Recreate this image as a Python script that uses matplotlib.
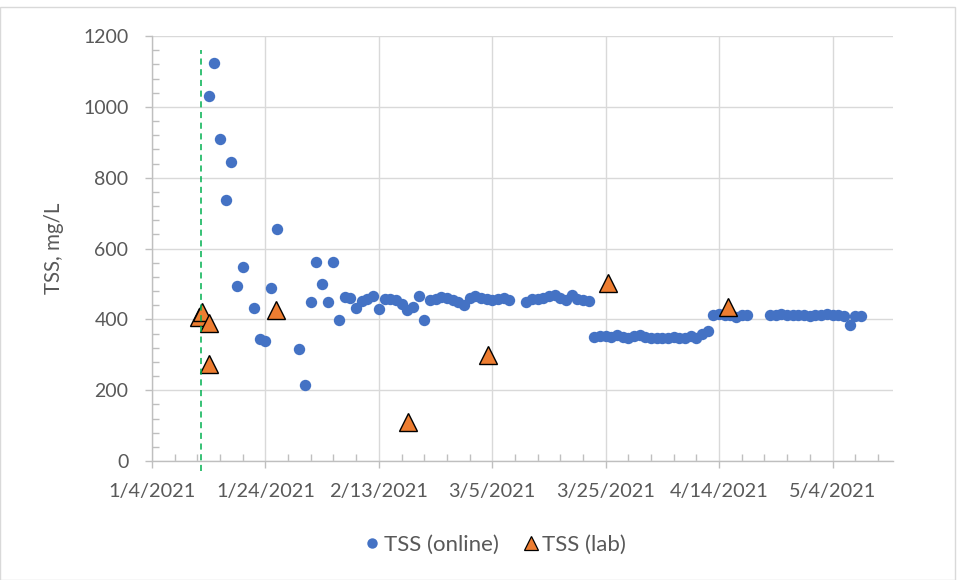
import matplotlib
matplotlib.use("Agg")
import matplotlib.pyplot as plt
import matplotlib.dates as mdates
from matplotlib.lines import Line2D
from matplotlib.patches import Rectangle
import numpy as np
import pandas as pd

# ---------------- data ----------------
online_dates = [
    "2021-01-14", "2021-01-15", "2021-01-16", "2021-01-17", "2021-01-18", "2021-01-19",
    "2021-01-20", "2021-01-22", "2021-01-23", "2021-01-24", "2021-01-25", "2021-01-26",
    "2021-01-30", "2021-01-31", "2021-02-01", "2021-02-02", "2021-02-03", "2021-02-04",
    "2021-02-05", "2021-02-06", "2021-02-07", "2021-02-08", "2021-02-09", "2021-02-10",
    "2021-02-11", "2021-02-12", "2021-02-13", "2021-02-14", "2021-02-15", "2021-02-16",
    "2021-02-17", "2021-02-18", "2021-02-19", "2021-02-20", "2021-02-21", "2021-02-22",
    "2021-02-23", "2021-02-24", "2021-02-25", "2021-02-26", "2021-02-27", "2021-02-28",
    "2021-03-01", "2021-03-02", "2021-03-03", "2021-03-04", "2021-03-05", "2021-03-06",
    "2021-03-07", "2021-03-08", "2021-03-11", "2021-03-12", "2021-03-13", "2021-03-14",
    "2021-03-15", "2021-03-16", "2021-03-17", "2021-03-18", "2021-03-19", "2021-03-20",
    "2021-03-21", "2021-03-22", "2021-03-23", "2021-03-24", "2021-03-25", "2021-03-26",
    "2021-03-27", "2021-03-28", "2021-03-29", "2021-03-30", "2021-03-31", "2021-04-01",
    "2021-04-02", "2021-04-03", "2021-04-04", "2021-04-05", "2021-04-06", "2021-04-07",
    "2021-04-08", "2021-04-09", "2021-04-10", "2021-04-11", "2021-04-12", "2021-04-13",
    "2021-04-14", "2021-04-15", "2021-04-16", "2021-04-17", "2021-04-18", "2021-04-19",
    "2021-04-23", "2021-04-24", "2021-04-25", "2021-04-26", "2021-04-27", "2021-04-28",
    "2021-04-29", "2021-04-30", "2021-05-01", "2021-05-02", "2021-05-03", "2021-05-04",
    "2021-05-05", "2021-05-06", "2021-05-07", "2021-05-08", "2021-05-09",
]
online_tss = [
    1030, 1124, 909, 737, 845, 493,
    547, 432, 344, 338, 489, 655,
    317, 214, 449, 561, 499, 449,
    561, 399, 463, 459, 431, 453,
    458, 465, 428, 458, 458, 454,
    444, 425, 435, 465, 397, 454,
    458, 463, 461, 455, 449, 440,
    461, 465, 461, 458, 454, 458,
    460, 456, 449, 458, 458, 461,
    465, 468, 461, 455, 468, 458,
    454, 452, 350, 352, 352, 350,
    355, 350, 347, 352, 355, 349,
    346, 347, 346, 347, 350, 346,
    348, 352, 348, 358, 368, 412,
    414, 411, 413, 408, 412, 413,
    413, 412, 414, 413, 412, 411,
    413, 409, 411, 413, 414, 412,
    411, 409, 383, 410, 409,
]

lab_dates = [
    "2021-01-12 08:00", "2021-01-12 20:00", "2021-01-14 02:00", "2021-01-14 02:00",
    "2021-01-25 22:00", "2021-02-18 02:00", "2021-03-04 05:00", "2021-03-25 10:00",
    "2021-04-15 14:00",
]
lab_tss = [408, 420, 390, 273, 425, 110, 300, 503, 434]

marker_date = "2021-01-12 15:00"   # dashed vertical reference line

x_tick_dates = ["2021-01-04", "2021-01-24", "2021-02-13", "2021-03-05",
                "2021-03-25", "2021-04-14", "2021-05-04"]
x_tick_labels = ["1/4/2021", "1/24/2021", "2/13/2021", "3/5/2021",
                 "3/25/2021", "4/14/2021", "5/4/2021"]
y_ticks = [0, 200, 400, 600, 800, 1000, 1200]

# ---------------- style ----------------
FONT = "Lato"
TXT = "#595959"
GRID = "#d9d9d9"
AX = "#bfbfbf"
BLUE = "#4472C4"
ORANGE = "#ED7D31"

plt.rcParams["font.family"] = [FONT, "DejaVu Sans"]

fig = plt.figure(figsize=(9.64, 5.8), dpi=100)
ax = fig.add_axes([152 / 964, 1 - 461 / 580, (893 - 152) / 964, (461 - 36) / 580])

od = pd.to_datetime(online_dates)
ld = pd.to_datetime(lab_dates)

ax.plot(od, online_tss, linestyle="none", marker="o", markersize=8.2,
        color=BLUE, markeredgewidth=0, zorder=3)
ax.plot(ld, lab_tss, linestyle="none", marker="^", markersize=13,
        markerfacecolor=ORANGE, markeredgecolor="black", markeredgewidth=1.0, zorder=4)

# vertical dashed reference line
mx = mdates.date2num(pd.Timestamp(marker_date))
ax.plot([mx, mx], [-28, 1160], color="#00B050", linestyle=(0, (4, 3)), linewidth=1.1,
        clip_on=False, zorder=5)

xmin = mdates.date2num(pd.Timestamp("2021-01-04"))
xmax = mdates.date2num(pd.Timestamp("2021-05-14 16:00"))
ax.set_xlim(xmin, xmax)
ax.set_ylim(0, 1200)

xt = mdates.date2num(pd.to_datetime(x_tick_dates))
ax.set_xticks(xt)
ax.set_xticklabels(x_tick_labels)
ax.set_xticks(np.arange(xmin, xmax, 4), minor=True)
ax.set_yticks(y_ticks)
ax.set_yticklabels([str(v) for v in y_ticks])
ax.set_yticks(np.arange(0, 1201, 40), minor=True)

ax.grid(True, which="major", color=GRID, linewidth=1.0, zorder=0)
ax.set_axisbelow(True)
for s in ["top", "right"]:
    ax.spines[s].set_visible(False)
for s in ["left", "bottom"]:
    ax.spines[s].set_color(AX)
    ax.spines[s].set_linewidth(1.0)

ax.tick_params(axis="x", which="major", direction="out", length=5, width=1, color=AX,
               labelsize=14.3, labelcolor=TXT, pad=11)
ax.tick_params(axis="x", which="minor", direction="in", length=5, width=1, color=AX)
ax.tick_params(axis="y", which="major", direction="out", length=5, width=1, color=AX,
               labelsize=14, labelcolor=TXT, pad=12)
ax.tick_params(axis="y", which="minor", direction="in", length=5, width=1, color=AX)

ax.set_ylabel("TSS, mg/L", fontsize=14.8, color=TXT, labelpad=14)

handles = [
    Line2D([], [], linestyle="none", marker="o", markersize=7.5, color=BLUE, markeredgewidth=0),
    Line2D([], [], linestyle="none", marker="^", markersize=10, markerfacecolor=ORANGE,
           markeredgecolor="black", markeredgewidth=0.9),
]
fig.legend(handles, ["TSS (online)", "TSS (lab)"], loc="center",
           bbox_to_anchor=(494 / 964, 1 - 545 / 580), ncol=2, frameon=False,
           fontsize=16, labelcolor=TXT, handletextpad=0.05, columnspacing=1.0,
           handlelength=0.9)

fig.add_artist(Rectangle((0.0, 0.0), 955 / 964, 1 - 7 / 580, transform=fig.transFigure,
                         fill=False, edgecolor="#d9d9d9", linewidth=1.0))

fig.savefig("out.png", dpi=100)
